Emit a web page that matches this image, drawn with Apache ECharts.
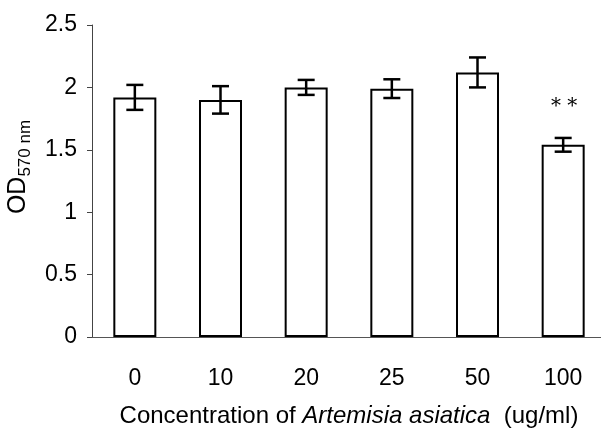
<!DOCTYPE html>
<html>
<head>
<meta charset="utf-8">
<script src="https://cdn.jsdelivr.net/npm/echarts@6/dist/echarts.min.js"></script>
<style>html,body{margin:0;padding:0;background:#fff;}#c{width:601px;height:428px;}</style>
</head>
<body>
<div id="c"></div>
<script>
var categories = ['0', '10', '20', '25', '50', '100'];
var means = [1.92, 1.90, 2.00, 1.99, 2.12, 1.54];
var errors = [0.10, 0.11, 0.06, 0.075, 0.12, 0.055];
var sigMarks = ['', '', '', '', '', '* *'];
var yMin = 0, yMax = 2.5, yStep = 0.5;

var FONT = '"Liberation Sans", Arial, sans-serif';
var chart = echarts.init(document.getElementById('c'), null, {renderer: 'canvas'});

var errData = means.map(function (m, i) { return [i, m, errors[i], sigMarks[i]]; });

chart.setOption({
  animation: false,
  backgroundColor: '#fff',
  grid: {left: 92, right: -5, top: 25, bottom: 91, containLabel: false, outerBoundsMode: 'none'},
  xAxis: {
    type: 'category',
    data: categories,
    boundaryGap: true,
    axisLine: {show: true, lineStyle: {color: '#555', width: 1}},
    axisTick: {show: false},
    axisLabel: {color: '#000', fontFamily: FONT, fontSize: 23, margin: 30},
    name: '{n|Concentration of }{i|Artemisia asiatica}{n|  (ug/ml)}',
    nameLocation: 'middle',
    nameGap: 67,
    nameTextStyle: {
      rich: {
        n: {fontFamily: FONT, fontSize: 24, color: '#000'},
        i: {fontFamily: FONT, fontSize: 24, fontStyle: 'italic', color: '#000'}
      }
    }
  },
  yAxis: {
    type: 'value',
    min: yMin, max: yMax, interval: yStep,
    splitLine: {show: false},
    axisLine: {show: true, lineStyle: {color: '#444', width: 1}},
    axisTick: {show: true, inside: false, length: 5, lineStyle: {color: '#444'}},
    axisLabel: {color: '#000', fontFamily: FONT, fontSize: 23, margin: 15},
    name: '{a|OD}{b|570 nm}',
    nameLocation: 'middle',
    nameGap: 58,
    nameRotate: 90,
    nameTextStyle: {
      padding: [0, 0, 0, 28],
      rich: {
        a: {fontFamily: FONT, fontSize: 25, color: '#000'},
        b: {fontFamily: FONT, fontSize: 17, color: '#000', verticalAlign: 'bottom', padding: [14, 0, 0, 0]}
      }
    }
  },
  series: [
    {
      type: 'bar',
      data: means,
      barWidth: 43,
      itemStyle: {color: '#fff', borderColor: '#000', borderWidth: 2}
    },
    {
      type: 'custom',
      data: errData,
      z: 10,
      renderItem: function (params, api) {
        var i = api.value(0), m = api.value(1), e = api.value(2);
        var hi = api.coord([i, m + e]);
        var lo = api.coord([i, m - e]);
        var x = hi[0], cap = 8.5;
        var st = {stroke: '#000', lineWidth: 2.5};
        var children = [
          {type: 'line', shape: {x1: x, y1: hi[1], x2: x, y2: lo[1]}, style: st},
          {type: 'line', shape: {x1: x - cap, y1: hi[1], x2: x + cap, y2: hi[1]}, style: st},
          {type: 'line', shape: {x1: x - cap, y1: lo[1], x2: x + cap, y2: lo[1]}, style: st}
        ];
        var s = sigMarks[params.dataIndex];
        if (s) {
          children.push({type: 'text', style: {text: s, x: x + 1, y: hi[1] - 31, align: 'center', verticalAlign: 'middle',
            font: '20px "DejaVu Serif", serif', fill: '#000'}});
        }
        return {type: 'group', children: children};
      }
    }
  ]
});
</script>
</body>
</html>
